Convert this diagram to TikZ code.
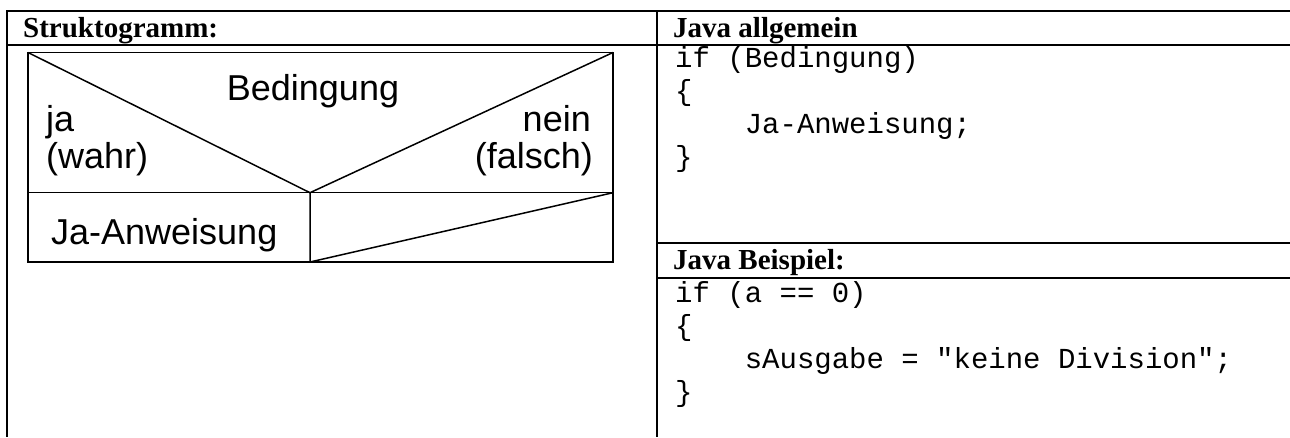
\documentclass[tikz,border=0pt]{standalone}
\usepackage{fontspec}
\setmainfont{Liberation Serif}
\setsansfont{Liberation Sans}
\setmonofont{Liberation Mono}
\begin{document}
\begin{tikzpicture}[x=1pt,y=-1pt,
  head/.style={anchor=base west,inner sep=0pt,font=\fontsize{29}{33}\selectfont\bfseries},
  code/.style={anchor=base west,inner sep=0pt,font=\fontsize{29}{33}\selectfont\ttfamily},
  nsd/.style={inner sep=0pt,font=\fontsize{36}{41}\selectfont\sffamily},
  rule/.style={line width=2pt},
  box/.style={line width=1.5pt}]
\useasboundingbox (0,0) rectangle (1290,437);
\draw [rule] (7,11) -- (1290,11); %top
\draw [rule] (7,44.5) -- (1290,44.5);
\draw [rule] (657,242.5) -- (1290,242.5);
\draw [rule] (657,278) -- (1290,278);
\draw [rule] (7,10) -- (7,437); %left
\draw [rule] (657,10) -- (657,437); %middle
\node [head] (tStrukt) at (23,37) {Struktogramm:};
\node [head] (tAllg) at (673,37) {Java allgemein};
\node [head] (tBsp) at (673,269.5) {Java Beispiel:};
% Struktogramm
\coordinate (v) at (310,192.7);
\draw [box] (28,52.5) rectangle (613,262);
\draw [box] (28,192.7) -- (613,192.7);
\draw [box] (28,52.5) -- (v) -- (613,52.5);
\draw [box] (v) -- (310,262) -- (613,192.7);
\node [nsd,anchor=base] (bed) at (313,100) {Bedingung};
\node [nsd,anchor=base west] (ja) at (46,131) {ja};
\node [nsd,anchor=base west] (wahr) at (46,168) {(wahr)};
\node [nsd,anchor=base east] (nein) at (591,131) {nein};
\node [nsd,anchor=base east] (falsch) at (593,168) {(falsch)};
\node [nsd,anchor=base west] (jaAnw) at (51,244) {Ja-Anweisung};
% Java
\node [code] (a1) at (675,67) {if (Bedingung)};
\node [code] (a2) at (675,100) {\{};
\node [code] (a3) at (675,133) {\ \ \ \ Ja-Anweisung;};
\node [code] (a4) at (675,166) {\}};
\node [code] (b1) at (675,302) {if (a == 0)};
\node [code] (b2) at (675,335) {\{};
\node [code] (b3) at (675,368) {\ \ \ \ sAusgabe = "keine Division";};
\node [code] (b4) at (675,401) {\}};
\end{tikzpicture}
\end{document}
